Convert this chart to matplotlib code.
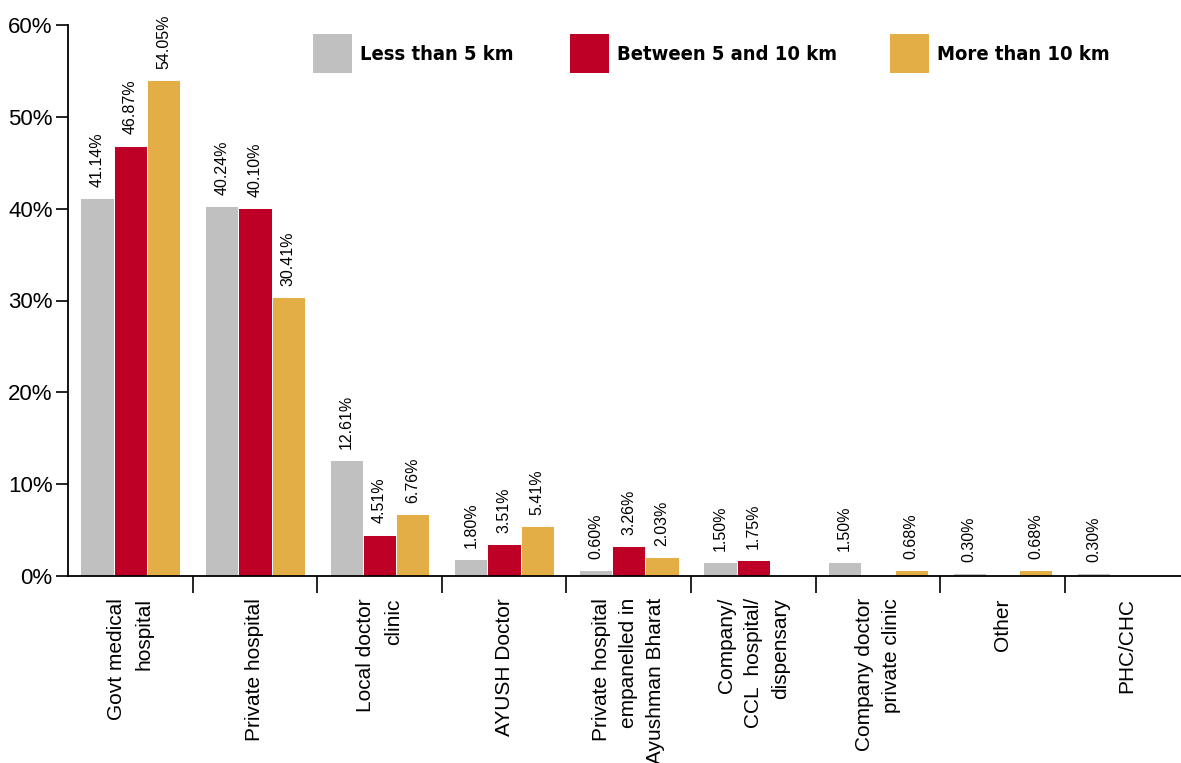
import matplotlib
matplotlib.use("Agg")
import matplotlib.pyplot as plt
from matplotlib.patches import Rectangle
from matplotlib.ticker import FixedLocator
import numpy as np

categories = [
    "Govt medical\nhospital",
    "Private hospital",
    "Local doctor\nclinic",
    "AYUSH Doctor",
    "Private hospital\nempanelled in\nAyushman Bharat",
    "Company/\nCCL  hospital/\ndispensary",
    "Company doctor\nprivate clinic",
    "Other",
    "PHC/CHC",
]
series_names = ["Less than 5 km", "Between 5 and 10 km", "More than 10 km"]
less_than_5 = [41.14, 40.24, 12.61, 1.80, 0.60, 1.50, 1.50, 0.30, 0.30]
between_5_10 = [46.87, 40.10, 4.51, 3.51, 3.26, 1.75, 0.00, 0.00, 0.00]
more_than_10 = [54.05, 30.41, 6.76, 5.41, 2.03, 0.00, 0.68, 0.68, 0.00]
colors = ["#C0C0C0", "#BE0027", "#E3AE45"]
yticks = [0, 10, 20, 30, 40, 50, 60]

plt.rcParams["font.family"] = ["Liberation Sans", "DejaVu Sans"]

W, H = 1181, 763
fig = plt.figure(figsize=(W / 100, H / 100), dpi=100)
ax = fig.add_axes([68 / W, 187 / H, 1113 / W, (576 - 25) / H])

x = np.arange(len(categories))
width = 0.8 / 3
for i, (vals, col) in enumerate(zip([less_than_5, between_5_10, more_than_10], colors)):
    pos = x + (i - 1) * width
    ax.bar(pos, vals, width, color=col, edgecolor="white", linewidth=0.7, zorder=2)
    for px, v in zip(pos, vals):
        if v > 0:
            ax.annotate(f"{v:.2f}%", (px, v), xytext=(0, 8), textcoords="offset points",
                        rotation=90, ha="center", va="bottom", fontsize=11.5)

ax.set_xlim(-0.5, -0.5 + 1113 / 124.6)
ax.set_ylim(0, 60)
ax.set_yticks(yticks)
ax.set_yticklabels([f"{t}%" for t in yticks], fontsize=16)
ax.tick_params(axis="y", length=9, width=1.2, pad=2)

ax.set_xticks(x)
ax.set_xticklabels(categories, rotation=90, fontsize=15, ha="center", va="top",
                   multialignment="right", linespacing=1.55)
ax.tick_params(axis="x", which="major", length=0, pad=16)
ax.xaxis.set_minor_locator(FixedLocator(np.arange(0.5, len(categories) - 0.5, 1.0)))
ax.tick_params(axis="x", which="minor", length=12, width=1.2)

for side in ("top", "right"):
    ax.spines[side].set_visible(False)
for side in ("left", "bottom"):
    ax.spines[side].set_linewidth(1.3)
    ax.spines[side].set_zorder(3)

# legend: square swatches with bold condensed labels across the top
swatch_left = [313, 570, 890]
for left, col, name in zip(swatch_left, colors, series_names):
    fig.add_artist(Rectangle((left / W, 1 - 73 / H), 39 / W, 39 / H,
                             transform=fig.transFigure, facecolor=col, edgecolor="none"))
    fig.text((left + 47) / W, 1 - 54 / H, name, ha="left", va="center",
             family="DejaVu Sans", weight="bold", stretch="condensed", fontsize=14.5)

fig.savefig("out.png", dpi=100)
